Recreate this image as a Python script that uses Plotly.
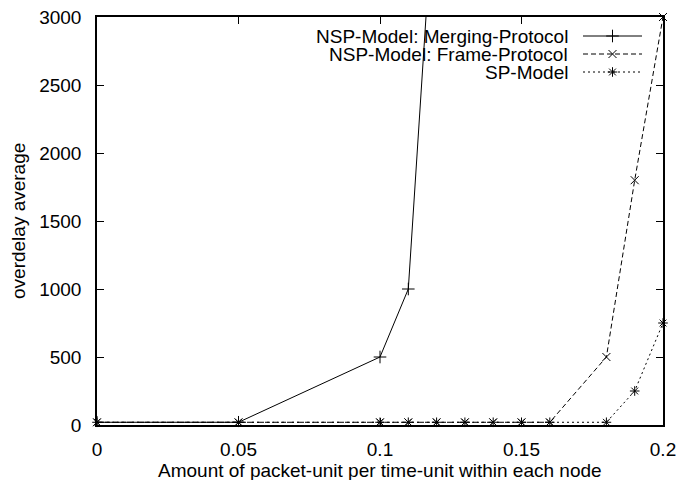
import plotly.graph_objects as go

# ---- data ----
merging_x = [0, 0.05, 0.1, 0.11, 0.12]
merging_y = [20, 20, 500, 1000, 4200]

frame_x = [0, 0.05, 0.1, 0.11, 0.12, 0.13, 0.14, 0.15, 0.16, 0.18, 0.19, 0.2]
frame_y = [20, 20, 20, 20, 20, 20, 20, 20, 20, 500, 1800, 3000]

sp_x = [0, 0.05, 0.1, 0.11, 0.12, 0.13, 0.14, 0.15, 0.16, 0.18, 0.19, 0.2]
sp_y = [20, 20, 20, 20, 20, 20, 20, 20, 20, 20, 250, 750]

series_names = ["NSP-Model: Merging-Protocol", "NSP-Model: Frame-Protocol", "SP-Model"]
x_ticks = [0, 0.05, 0.1, 0.15, 0.2]
x_tick_labels = ["0", "0.05", "0.1", "0.15", "0.2"]
y_ticks = [0, 500, 1000, 1500, 2000, 2500, 3000]

FONT = "Liberation Sans, Arial, Helvetica, sans-serif"
FS = 19

W, H = 678, 480
ML, MR, MT, MB = 97, 15, 17, 55
PW, PH = W - ML - MR, H - MT - MB  # plot area size in px

styles = [
    dict(dash="solid", symbol="cross-thin", size=9),
    dict(dash="5px,3px", symbol="x-thin", size=8),
    dict(dash="2px,3px", symbol="asterisk", size=8),
]

fig = go.Figure()
data = [(merging_x, merging_y), (frame_x, frame_y), (sp_x, sp_y)]
for i, ((xs, ys), st) in enumerate(zip(data, styles)):
    fig.add_trace(go.Scatter(
        x=xs, y=ys, mode="lines+markers", name=series_names[i],
        line=dict(color="black", width=1, dash=st["dash"]),
        marker=dict(symbol=st["symbol"], size=st["size"], color="black",
                    line=dict(color="black", width=1)),
        cliponaxis=(i == 0), showlegend=False,
    ))

# legend drawn in an overlay pixel-like coordinate system (origin = plot bottom-left)
leg_rows = [389, 371, 353]
for i, st in enumerate(styles):
    y = leg_rows[i]
    fig.add_trace(go.Scatter(
        x=[486, 545], y=[y, y], mode="lines", xaxis="x2", yaxis="y2",
        line=dict(color="black", width=1, dash=st["dash"]), showlegend=False,
        hoverinfo="skip"))
    fig.add_trace(go.Scatter(
        x=[515.5], y=[y], mode="markers", xaxis="x2", yaxis="y2",
        marker=dict(symbol=st["symbol"], size=st["size"], color="black",
                    line=dict(color="black", width=1)),
        showlegend=False, hoverinfo="skip"))
    fig.add_annotation(x=473, y=y, xref="x2", yref="y2", text=series_names[i],
                       showarrow=False, xanchor="right", yanchor="middle",
                       font=dict(family=FONT, size=FS, color="black"))

# axis titles (paper coords are relative to the plot area)
fig.add_annotation(x=0.5, y=-(470 - (H - MB)) / PH, xref="paper", yref="paper",
                   text="Amount of packet-unit per time-unit within each node",
                   showarrow=False, xanchor="center", yanchor="middle",
                   font=dict(family=FONT, size=FS, color="black"))
fig.add_annotation(x=-(ML - 18) / PW, y=0.5, xref="paper", yref="paper",
                   text="overdelay average", textangle=-90,
                   showarrow=False, xanchor="center", yanchor="middle",
                   font=dict(family=FONT, size=FS, color="black"))

axis_common = dict(showline=True, linecolor="black", linewidth=1.5, mirror="ticks",
                   ticks="inside", ticklen=7, tickwidth=1, tickcolor="black",
                   showgrid=False, zeroline=False, automargin=False,
                   tickfont=dict(family=FONT, size=FS, color="black"))

fig.update_layout(
    width=W, height=H,
    margin=dict(l=ML, r=MR, t=MT, b=MB, autoexpand=False),
    paper_bgcolor="white", plot_bgcolor="white",
    font=dict(family=FONT, size=FS, color="black"),
    xaxis=dict(range=[0, 0.2], tickvals=x_ticks, ticktext=x_tick_labels,
               ticklabelstandoff=6, **axis_common),
    yaxis=dict(range=[0, 3000], tickvals=y_ticks, ticklabelstandoff=10,
               **axis_common),
    xaxis2=dict(overlaying="x", range=[0, PW], visible=False, fixedrange=True),
    yaxis2=dict(overlaying="y", range=[0, PH], visible=False, fixedrange=True),
)

fig.write_html("out.html", config={"displayModeBar": False},
               post_script="document.body.style.margin='0';")
